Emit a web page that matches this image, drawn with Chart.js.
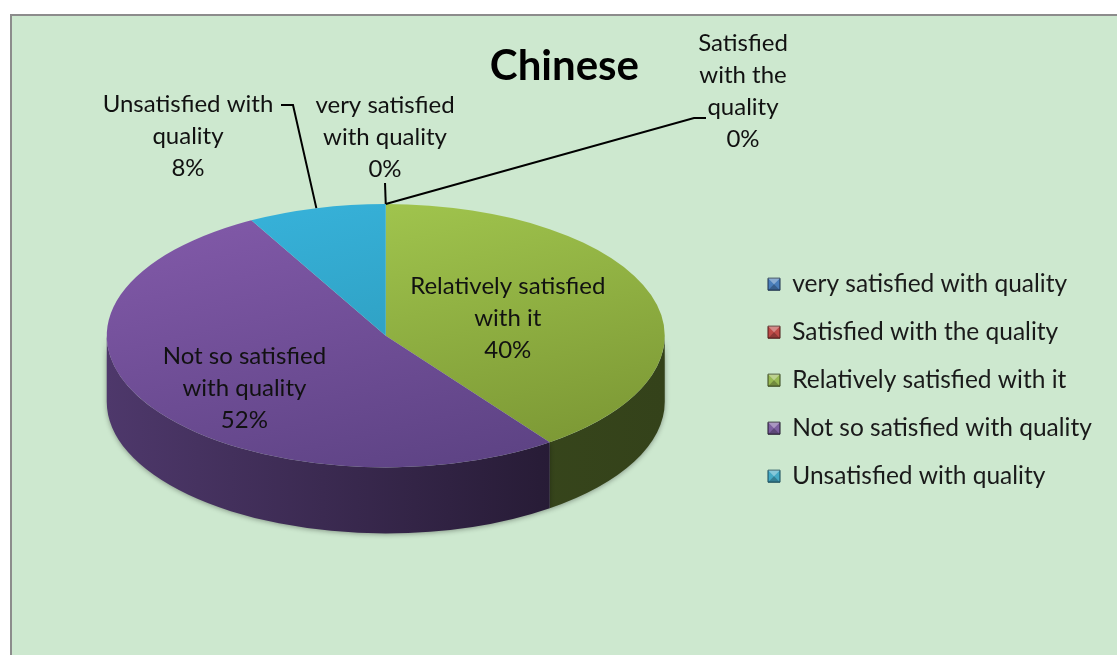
<!DOCTYPE html>
<html>
<head>
<meta charset="utf-8">
<script src="https://cdn.jsdelivr.net/npm/chart.js@4.4.1/dist/chart.umd.min.js"></script>
<style>
  html, body { margin: 0; padding: 0; background: #ffffff; width: 1117px; height: 655px; overflow: hidden; }
  #frame { position: absolute; left: 10px; top: 14px; width: 1130px; height: 670px;
           border-left: 2px solid #8c8c8c; border-top: 2px solid #8c8c8c; background: #cde8cf; }
  #wrap { position: absolute; left: 0; top: 0; width: 1117px; height: 655px; }
</style>
</head>
<body>
<div id="frame"></div>
<div id="wrap"><canvas id="chart" width="1117" height="655"></canvas></div>
<script>
// ---- data ----
const chartTitle = 'Chinese';
const categories = [
  'very satisfied with quality',
  'Satisfied with the quality',
  'Relatively satisfied with it',
  'Not so satisfied with quality',
  'Unsatisfied with quality'
];
const shares = [0, 0, 40, 52, 8];
const labelLines = [
  ['very satisfied', 'with quality'],
  ['Satisfied', 'with the', 'quality'],
  ['Relatively satisfied', 'with it'],
  ['Not so satisfied', 'with quality'],
  ['Unsatisfied with', 'quality']
];

// ---- styling ----
const topFaceColors = [   // [light, dark] for the top face of each slice
  ['#5b8fd2', '#3d6aa8'],
  ['#dc6562', '#a93d3a'],
  ['#a4c950', '#7b9734'],
  ['#8159a8', '#5c4283'],
  ['#37b2da', '#2892b0']
];
const sideColors = [      // [left, right] for the rim of each slice
  ['#2a4468', '#1c2f4a'],
  ['#6a2422', '#4a1816'],
  ['#3f4f20', '#34421a'],
  ['#4e386b', '#1d1428'],
  ['#1e6377', '#154756']
];
const legendColors = ['#4a7ebb', '#be4b48', '#98b954', '#7d60a0', '#46aac5'];
const FONT = 'Lato, "Open Sans", sans-serif';
const LABEL_SIZE = 24;
const LEGEND_SIZE = 24.5;
const RADIUS = 279;

// 3D pie: draws the rim first, then squashes the flat pie into an ellipse on top of it
const pie3d = {
  id: 'pie3d',
  beforeDatasetsDraw(chart, args, opts) {
    const arcs = chart.getDatasetMeta(0).data;
    if (!arcs.length) return;
    const { x: cx, y: cy, outerRadius: r } = arcs[0];
    const k = opts.tilt, depth = opts.depth, top = cy - opts.lift;
    const ctx = chart.ctx;
    ctx.save();
    ctx.shadowColor = 'rgba(0,0,0,0.35)';
    ctx.shadowBlur = 5;
    ctx.shadowOffsetY = 1;
    arcs.forEach((arc, i) => {
      const a = Math.max(arc.startAngle, 0);
      const b = Math.min(arc.endAngle, Math.PI);
      if (b <= a) return;
      const g = ctx.createLinearGradient(cx - r, 0, cx + r, 0);
      g.addColorStop(0, opts.sideColors[i][0]);
      g.addColorStop(1, opts.sideColors[i][1]);
      ctx.beginPath();
      ctx.ellipse(cx, top, r, r * k, 0, a, b);
      ctx.ellipse(cx, top + depth, r, r * k, 0, b, a, true);
      ctx.closePath();
      ctx.fillStyle = g;
      ctx.fill();
    });
    ctx.restore();
    ctx.save();
    ctx.translate(0, top);
    ctx.scale(1, k);
    ctx.translate(0, -cy);
  },
  afterDatasetsDraw(chart) {
    chart.ctx.restore();
  }
};

// data labels: inside the large slices, with leader lines outside for the small ones
const sliceLabels = {
  id: 'sliceLabels',
  afterDraw(chart, args, opts) {
    const arcs = chart.getDatasetMeta(0).data;
    if (!arcs.length) return;
    const { x: cx, y: cy, outerRadius: r } = arcs[0];
    const p3 = chart.options.plugins.pie3d;
    const top = cy - p3.lift, k = p3.tilt;
    const onTop = (ang, f) => ({ x: cx + f * r * Math.cos(ang), y: top + f * k * r * Math.sin(ang) });
    const ctx = chart.ctx;
    ctx.save();
    ctx.font = opts.size + 'px ' + FONT;
    ctx.fillStyle = '#111';
    ctx.textAlign = 'center';
    ctx.textBaseline = 'middle';
    ctx.strokeStyle = '#000';
    ctx.lineWidth = 2;
    opts.layout.forEach((L, i) => {
      const arc = arcs[i];
      const mid = (arc.startAngle + arc.endAngle) / 2;
      const lines = labelLines[i].concat([shares[i] + '%']);
      if (L.inside) {
        const p = onTop(mid, L.f);
        const y0 = p.y + L.dy - (lines.length - 1) * opts.lineHeight / 2;
        lines.forEach((t, j) => ctx.fillText(t, p.x, y0 + j * opts.lineHeight));
      } else {
        const e = onTop(mid, 1);
        ctx.beginPath();
        ctx.moveTo(e.x, e.y);
        L.leader.forEach(([x, y]) => ctx.lineTo(x, y));
        ctx.stroke();
        lines.forEach((t, j) => ctx.fillText(t, L.x, L.y + j * opts.lineHeight));
      }
    });
    ctx.restore();
  }
};

// small bevel on the legend swatches
const swatchBevel = {
  id: 'swatchBevel',
  afterDraw(chart) {
    const lg = chart.legend;
    if (!lg || !lg.legendHitBoxes) return;
    const ctx = chart.ctx;
    ctx.save();
    lg.legendHitBoxes.forEach((hb) => {
      const s = 12;
      const x = hb.left, y = hb.top + (hb.height - s) / 2;
      ctx.fillStyle = 'rgba(255,255,255,0.35)';
      ctx.beginPath(); ctx.moveTo(x, y); ctx.lineTo(x + s, y); ctx.lineTo(x + s / 2, y + s / 2); ctx.closePath(); ctx.fill();
      ctx.fillStyle = 'rgba(0,0,0,0.25)';
      ctx.beginPath(); ctx.moveTo(x, y + s); ctx.lineTo(x + s, y + s); ctx.lineTo(x + s / 2, y + s / 2); ctx.closePath(); ctx.fill();
    });
    ctx.restore();
  }
};

function topFace(context) {
  const chart = context.chart;
  const area = chart.chartArea;
  const i = context.dataIndex;
  if (!area || i === undefined) return topFaceColors[i || 0][0];
  const cx = (area.left + area.right) / 2, cy = (area.top + area.bottom) / 2;
  const g = chart.ctx.createLinearGradient(cx - RADIUS * 0.5, cy - RADIUS, cx + RADIUS * 0.5, cy + RADIUS);
  g.addColorStop(0, topFaceColors[i][0]);
  g.addColorStop(1, topFaceColors[i][1]);
  return g;
}

function rightPadding(context) {
  const ctx = context.chart.ctx;
  ctx.save();
  ctx.font = LEGEND_SIZE + 'px ' + FONT;
  const w = Math.max(...categories.map(c => ctx.measureText(c).width));
  ctx.restore();
  // legend swatches line up at x = 773
  return Math.max(0, 1117 - 778 - 12 - LEGEND_SIZE / 2 - w);
}

new Chart(document.getElementById('chart'), {
  type: 'pie',
  data: {
    labels: categories,
    datasets: [{
      data: shares,
      backgroundColor: topFace,
      borderWidth: 0,
      radius: RADIUS,
      clip: false
    }]
  },
  plugins: [pie3d, sliceLabels, swatchBevel],
  options: {
    responsive: false,
    animation: false,
    devicePixelRatio: 1,
    layout: {
      padding: (ctx) => ({ left: 27, right: rightPadding(ctx), top: 14, bottom: 0 })
    },
    plugins: {
      tooltip: { enabled: false },
      title: {
        display: true,
        text: chartTitle,
        color: '#000',
        font: { family: FONT, size: 42, weight: 'bold' },
        padding: { top: 27, bottom: 14 }
      },
      legend: {
        position: 'right',
        fullSize: false,
        labels: {
          boxWidth: 12,
          boxHeight: 12,
          padding: 23.5,
          color: '#1a1a1a',
          font: { family: FONT, size: LEGEND_SIZE },
          generateLabels(chart) {
            const items = Chart.overrides.pie.plugins.legend.labels.generateLabels(chart);
            items.forEach((it, i) => {
              it.fillStyle = legendColors[i];
              it.strokeStyle = sideColors[i][1];
              it.lineWidth = 1;
            });
            return items;
          }
        }
      },
      pie3d: { tilt: 0.472, depth: 66, lift: 44.5, sideColors: sideColors },
      sliceLabels: {
        size: LABEL_SIZE,
        lineHeight: 32,
        layout: [
          { inside: false, x: 385, y: 105, leader: [[385, 183]] },
          { inside: false, x: 743, y: 43, leader: [[694, 118], [706, 118]] },
          { inside: true, f: 0.46, dy: 1 },
          { inside: true, f: 0.6, dy: 10 },
          { inside: false, x: 188, y: 104, leader: [[293, 105], [281, 105]] }
        ]
      }
    }
  }
});
</script>
</body>
</html>
